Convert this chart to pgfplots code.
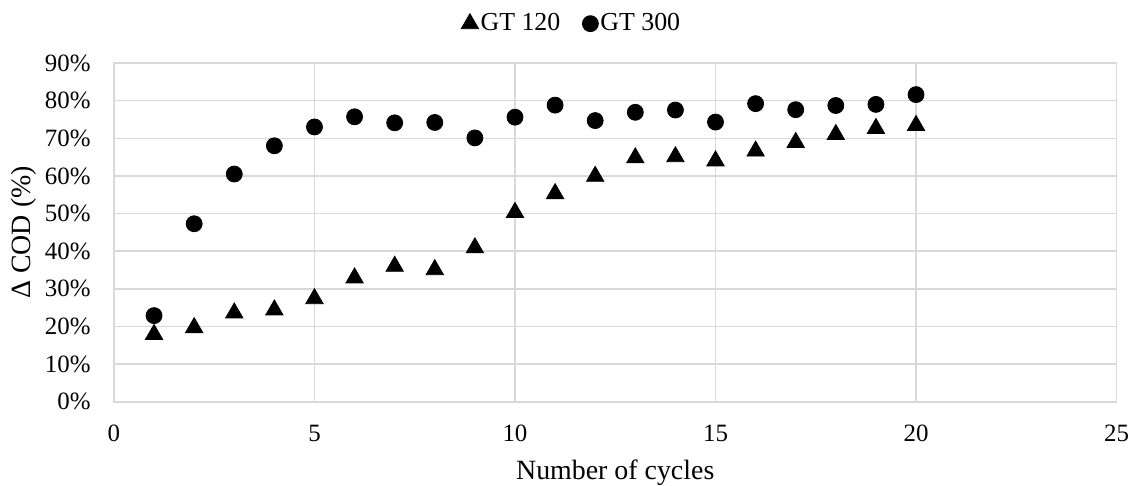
\documentclass[border=0pt]{standalone}
\usepackage{pgfplots}
\pgfplotsset{compat=1.18}
\usepackage{fontspec}
\setmainfont{Liberation Serif}
\definecolor{gridgray}{HTML}{D9D9D9}

\begin{document}
\begin{tikzpicture}
\begin{axis}[
name=ax,
scale only axis,
width=501.5bp, height=169.5bp,
xmin=0, xmax=25, ymin=0, ymax=90,
xtick={0,5,...,25}, ytick={0,10,...,90},
grid=major, major grid style={gridgray, line width=0.75bp},
axis line style={gridgray, line width=0.9bp},
major tick length=0pt,
/pgf/number format/assume math mode=true,
tick label style={font=\fontsize{12.5}{14}\selectfont, black},
yticklabel={\pgfmathprintnumber{\tick}\%},
yticklabel style={anchor=east, inner sep=0pt, xshift=-11.5bp},
xticklabel style={anchor=north, inner sep=0pt, yshift=-11.5bp},
xlabel={Number of cycles}, ylabel={Δ COD (\%)},
label style={font=\fontsize{14}{16}\selectfont},
xlabel style={at={(rel axis cs:0.5,-0.23)}, anchor=base, inner sep=0pt},
ylabel style={at={(rel axis cs:-0.09,0.5)}, anchor=center, inner sep=0pt},
legend columns=2,
legend style={at={(0.4566,1.085)}, anchor=south, draw=none, fill=none,
  inner sep=0pt, font=\fontsize{13}{15}\selectfont,
  nodes={inner xsep=1bp, inner ysep=0pt},
  /tikz/every even column/.append style={column sep=10bp}},
legend image code/.code={\draw[#1] plot coordinates {(0bp,0bp)};},
legend cell align=left,
]
\addplot[only marks, mark=triangle*, mark size=5bp, black] coordinates {
(1,17.9) (2,19.7) (3,23.6) (4,24.4) (5,27.4) (6,32.9) (7,36.0) (8,35.1)
(9,40.9) (10,50.3) (11,55.3) (12,59.9) (13,64.8) (14,65.1) (15,64.0)
(16,66.6) (17,68.9) (18,71.0) (19,72.6) (20,73.4)
};
\addlegendentry{GT 120}
\addplot[only marks, mark=*, mark size=4bp, black] coordinates {
(1,22.9) (2,47.3) (3,60.5) (4,68.0) (5,73.0) (6,75.7) (7,74.1) (8,74.2)
(9,70.1) (10,75.6) (11,78.8) (12,74.7) (13,76.9) (14,77.5) (15,74.3)
(16,79.2) (17,77.6) (18,78.7) (19,79.0) (20,81.6)
};
\addlegendentry{GT 300}
\end{axis}
\path (ax.south west) ++(-57bp,-41.5bp) coordinate (bl);
\path (ax.north east) ++(6bp,31.5bp) coordinate (tr);
\path (bl) (tr);
\end{tikzpicture}
\end{document}
